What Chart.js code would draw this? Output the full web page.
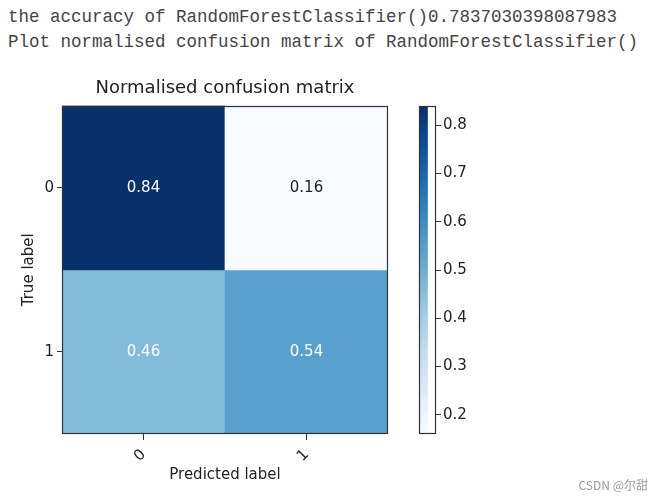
<!DOCTYPE html>
<html>
<head>
<meta charset="utf-8">
<script src="https://cdn.jsdelivr.net/npm/chart.js@4/dist/chart.umd.min.js"></script>
<style>
  body { margin: 0; background: #fff; }
  #wrap { position: relative; width: 662px; height: 499px; overflow: hidden; }
  .log { position: absolute; left: 8px; font-family: "Liberation Mono", monospace; font-size: 17.5px; color: #444; white-space: pre; }
  canvas { position: absolute; left: 0; top: 0; }
  #mark { position: absolute; right: 14px; top: 476px; font-family: "Noto Sans CJK SC", sans-serif; font-size: 12px; color: #999; }
</style>
</head>
<body>
<div id="wrap">
  <div class="log" style="top:7px">the accuracy of RandomForestClassifier()0.7837030398087983</div>
  <div class="log" style="top:32px">Plot normalised confusion matrix of RandomForestClassifier()</div>
  <canvas id="cmChart" width="662" height="499"></canvas>
  <canvas id="barChart" width="662" height="499"></canvas>
  <div id="mark">CSDN @尔甜</div>
</div>
<script>
// data
const classLabels = ["0", "1"];
const cmRow0 = [0.84, 0.16];
const cmRow1 = [0.46, 0.54];
const colorbarTicks = [0.2, 0.3, 0.4, 0.5, 0.6, 0.7, 0.8];
const vmin = 0.16;
const vmax = 0.84;

// matplotlib "Blues"
const blues = ["#f7fbff", "#deebf7", "#c6dbef", "#9ecae1", "#6baed6", "#4292c6", "#2171b5", "#08519c", "#08306b"];

function hexToRgb(h) {
  return [parseInt(h.slice(1, 3), 16), parseInt(h.slice(3, 5), 16), parseInt(h.slice(5, 7), 16)];
}
function bluesColor(v) {
  let t = (v - vmin) / (vmax - vmin);
  t = Math.max(0, Math.min(1, t));
  const pos = t * (blues.length - 1);
  const i = Math.min(Math.floor(pos), blues.length - 2);
  const f = pos - i;
  const a = hexToRgb(blues[i]), b = hexToRgb(blues[i + 1]);
  const c = a.map((x, k) => Math.round(x + (b[k] - x) * f));
  return "rgb(" + c.join(",") + ")";
}

const rows = [cmRow0, cmRow1];
const thresh = vmax / 2;
const tickFont = { family: "DejaVu Sans", size: 15 };
const axisColor = "#333";

// frame around chart area + cell text
const framePlugin = {
  id: "frame",
  afterDatasetsDraw(chart) {
    const ctx = chart.ctx;
    const a = chart.chartArea;
    if (chart.canvas.id === "cmChart") {
      ctx.save();
      ctx.font = "15px DejaVu Sans";
      ctx.textAlign = "center";
      ctx.textBaseline = "middle";
      chart.data.datasets.forEach((ds, i) => {
        const meta = chart.getDatasetMeta(i);
        meta.data.forEach((bar, j) => {
          const v = rows[i][j];
          ctx.fillStyle = v > thresh ? "#fff" : "#222";
          ctx.fillText(v.toFixed(2), bar.x, chart.scales.y.getPixelForValue(i));
        });
      });
      ctx.restore();
    }
    ctx.save();
    ctx.strokeStyle = axisColor;
    ctx.lineWidth = 1.2;
    ctx.strokeRect(Math.round(a.left) + 0.5, Math.round(a.top) + 0.5, Math.round(a.width) - 1, Math.round(a.height) - 1);
    ctx.restore();
  }
};

new Chart(document.getElementById("cmChart").getContext("2d"), {
  type: "bar",
  data: {
    labels: classLabels,
    datasets: rows.map((row, i) => ({
      data: row.map(() => [i - 0.5, i + 0.5]),
      backgroundColor: row.map(v => bluesColor(v)),
      borderWidth: 0,
      barPercentage: 1,
      categoryPercentage: 1,
      grouped: false,
    })),
  },
  options: {
    responsive: false,
    animation: false,
    layout: { padding: { left: 12, right: 274, top: 0, bottom: 5 } },
    plugins: {
      legend: { display: false },
      tooltip: { enabled: false },
      title: {
        display: true,
        text: "Normalised confusion matrix",
        fullSize: false,
        color: "#222",
        font: { family: "DejaVu Sans", size: 18, weight: "normal" },
        padding: { top: 78, bottom: 6 },
      },
    },
    scales: {
      x: {
        type: "category",
        offset: true,
        afterFit(scale) { scale.height = 60; },
        grid: { offset: false, drawOnChartArea: false, drawTicks: true, tickLength: 6, color: axisColor },
        border: { display: false },
        ticks: { color: "#222", font: tickFont, minRotation: 45, maxRotation: 45, padding: 6 },
        title: {
          display: true, text: "Predicted label", color: "#222",
          font: { family: "DejaVu Sans", size: 15 }, padding: { top: 2, bottom: 10 },
        },
      },
      y: {
        type: "linear",
        min: -0.5,
        max: 1.5,
        reverse: true,
        afterFit(scale) { scale.width = 50; },
        afterBuildTicks(scale) { scale.ticks = classLabels.map((c, i) => ({ value: i })); },
        grid: { drawOnChartArea: false, drawTicks: true, tickLength: 5, color: axisColor },
        border: { display: false },
        ticks: { color: "#222", font: tickFont, padding: 3, callback: (v) => classLabels[v] },
        title: {
          display: true, text: "True label", color: "#222",
          font: { family: "DejaVu Sans", size: 15 }, padding: { top: 8, bottom: 0 },
        },
      },
    },
  },
  plugins: [framePlugin],
});

// colorbar
new Chart(document.getElementById("barChart").getContext("2d"), {
  type: "bar",
  data: {
    labels: [""],
    datasets: [{
      data: [[vmin, vmax]],
      borderWidth: 0,
      barPercentage: 1,
      categoryPercentage: 1,
      backgroundColor(context) {
        const area = context.chart.chartArea;
        if (!area) return blues[4];
        const g = context.chart.ctx.createLinearGradient(0, area.bottom, 0, area.top);
        blues.forEach((c, k) => g.addColorStop(k / (blues.length - 1), c));
        return g;
      },
    }],
  },
  options: {
    responsive: false,
    animation: false,
    layout: { padding: { left: 419, right: 0, top: 106, bottom: 65 } },
    plugins: { legend: { display: false }, tooltip: { enabled: false } },
    scales: {
      x: { display: false, offset: false },
      y: {
        position: "right",
        min: vmin,
        max: vmax,
        afterFit(scale) { scale.width = 226; },
        afterBuildTicks(scale) { scale.ticks = colorbarTicks.map(v => ({ value: v })); },
        grid: { drawOnChartArea: false, drawTicks: true, tickLength: 5, color: axisColor },
        border: { display: false },
        ticks: { color: "#222", font: tickFont, padding: 2, callback: (v) => v.toFixed(1) },
      },
    },
  },
  plugins: [framePlugin],
});
</script>
</body>
</html>
